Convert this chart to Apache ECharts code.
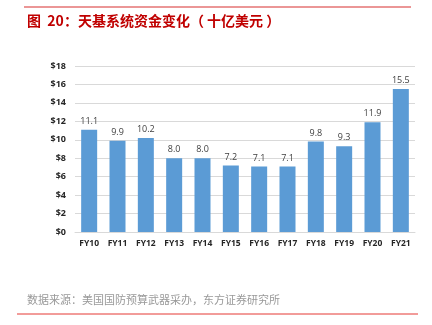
<!DOCTYPE html>
<html><head><meta charset="utf-8">
<script src="https://cdn.jsdelivr.net/npm/echarts@6/dist/echarts.min.js"></script>
<style>html,body{margin:0;padding:0;background:#fff}#c{width:432px;height:325px}</style>
</head><body><div id="c"></div>
<script>
const categories = ['FY10','FY11','FY12','FY13','FY14','FY15','FY16','FY17','FY18','FY19','FY20','FY21'];
const values = [11.1, 9.9, 10.2, 8.0, 8.0, 7.2, 7.1, 7.1, 9.8, 9.3, 11.9, 15.5];
const yTicks = [0, 2, 4, 6, 8, 10, 12, 14, 16, 18];
const titleText = '图  20：天基系统资金变化（ 十亿美元 ）';
const sourceText = '数据来源：美国国防预算武器采办，东方证券研究所';

const chart = echarts.init(document.getElementById('c'), null, {renderer: 'canvas'});
chart.setOption({
  animation: false,
  graphic: [
    {type: 'line', shape: {x1: 24, y1: 7, x2: 411, y2: 7}, style: {stroke: '#e57373', lineWidth: 1.5}},
    {type: 'text', left: 27, top: 14, style: {text: titleText, fill: '#c00000', font: 'bold 14px "Noto Sans CJK SC"'}},
    {type: 'text', left: 27, top: 294, style: {text: sourceText, fill: '#999999', font: '11px "Noto Sans CJK SC"'}},
    {type: 'line', shape: {x1: 17, y1: 314, x2: 418, y2: 314}, style: {stroke: '#e53935', lineWidth: 1}}
  ],
  grid: {left: 75, right: 17, top: 66, bottom: 93, containLabel: false},
  xAxis: {
    type: 'category', data: categories,
    axisLine: {show: true, lineStyle: {color: '#d9d9d9'}},
    axisTick: {show: false},
    axisLabel: {color: '#262626', fontWeight: 'bold', fontSize: 8.5, fontFamily: 'Open Sans', margin: 7}
  },
  yAxis: {
    type: 'value', min: 0, max: 18, interval: 2,
    axisLine: {show: false}, axisTick: {show: false},
    splitLine: {lineStyle: {color: '#d9d9d9'}},
    axisLabel: {color: '#262626', fontWeight: 'bold', fontSize: 9, fontFamily: 'Open Sans', margin: 9,
      formatter: v => yTicks.includes(v) ? '$' + v : ''}
  },
  series: [{
    type: 'bar', data: values, barWidth: 16,
    itemStyle: {color: '#5b9bd5'},
    label: {show: true, position: 'top', color: '#404040', fontSize: 9, fontFamily: 'Open Sans',
      formatter: p => p.value.toFixed(1), distance: 4}
  }]
});
</script></body></html>
